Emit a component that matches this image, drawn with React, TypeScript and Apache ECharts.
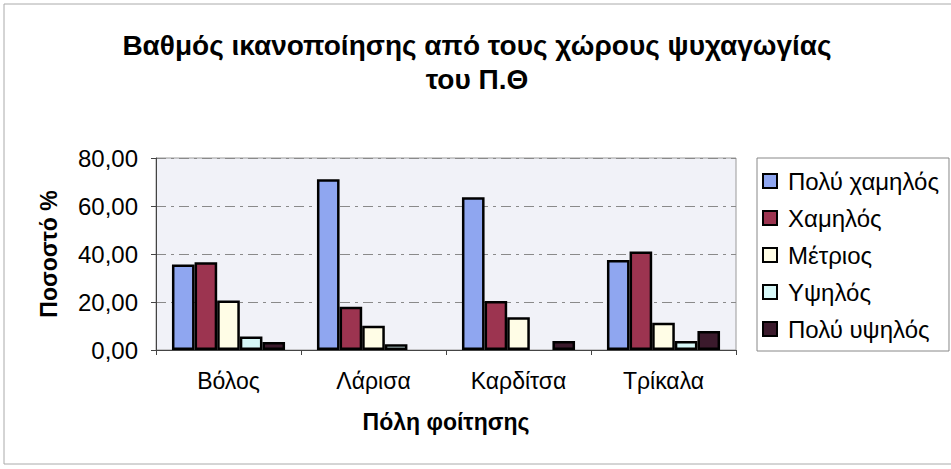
import React, { useEffect, useRef } from "react";
import * as echarts from "echarts";

const titleLines = ["Βαθμός ικανοποίησης από τους χώρους ψυχαγωγίας", "του Π.Θ"];
const categories = ["Βόλος", "Λάρισα", "Καρδίτσα", "Τρίκαλα"];
const seriesNames = ["Πολύ χαμηλός", "Χαμηλός", "Μέτριος", "Υψηλός", "Πολύ υψηλός"];
const veryLow = [35.6, 71.1, 63.6, 37.5];
const low = [36.6, 18.0, 20.4, 41.0];
const medium = [20.6, 10.1, 13.6, 11.4];
const high = [5.6, 2.4, 0, 3.8];
const veryHigh = [3.3, 0, 3.8, 7.9];
const yTickLabels = ["0,00", "20,00", "40,00", "60,00", "80,00"];
const colors = ["#8fa6f0", "#9c3450", "#fffde6", "#d6f7f7", "#3b1a2c"];

const FONT = "Liberation Sans";

export default function App() {
  const ref = useRef<HTMLDivElement>(null);
  useEffect(() => {
    if (!ref.current) return;
    const chart = echarts.init(ref.current, null, { renderer: "svg" });
    const values = [veryLow, low, medium, high, veryHigh];
    chart.setOption({
      animation: false,
      backgroundColor: "#ffffff",
      textStyle: { fontFamily: FONT },
      title: {
        text: titleLines.join("\n"),
        left: 472,
        textAlign: "center",
        top: 23,
        textStyle: {
          fontFamily: FONT,
          fontSize: 28,
          fontWeight: "bold",
          color: "#000",
          lineHeight: 34,
        },
      },
      legend: {
        orient: "vertical",
        left: 757,
        top: 158,
        width: 200,
        height: 190,
        padding: [11, 10, 10, 5],
        itemGap: 13,
        itemWidth: 14,
        itemHeight: 14,
        icon: "rect",
        backgroundColor: "#ffffff",
        borderColor: "#888",
        borderWidth: 1,
        textStyle: { fontFamily: FONT, fontSize: 24, color: "#000", padding: [0, 0, 0, 6] },
        data: seriesNames,
      },
      grid: {
        left: 156,
        right: 215,
        top: 158,
        bottom: 119,
        show: true,
        backgroundColor: "#f1f2f8",
        borderColor: "#9a9a9a",
        borderWidth: 1,
      },
      xAxis: {
        type: "category",
        data: categories,
        name: "Πόλη φοίτησης",
        nameLocation: "middle",
        nameGap: 60,
        nameTextStyle: { fontFamily: FONT, fontSize: 23, fontWeight: "bold", color: "#000" },
        axisLine: { lineStyle: { color: "#444", width: 1 } },
        axisTick: { show: true, length: 5, lineStyle: { color: "#444" } },
        axisLabel: { fontFamily: FONT, fontSize: 23, color: "#000", margin: 19 },
      },
      yAxis: {
        type: "value",
        min: 0,
        max: 80,
        interval: 20,
        name: "Ποσοστό %",
        nameLocation: "middle",
        nameGap: 96,
        nameTextStyle: { fontFamily: FONT, fontSize: 23, fontWeight: "bold", color: "#000" },
        axisLine: { show: true, lineStyle: { color: "#444", width: 1 } },
        axisTick: { show: true, length: 5, lineStyle: { color: "#444" } },
        axisLabel: {
          fontFamily: FONT,
          fontSize: 24,
          color: "#000",
          margin: 18,
          formatter: (v: number) => yTickLabels[Math.round(v / 20)],
        },
        splitLine: { show: true, lineStyle: { color: "#8a8a8a", type: [10, 5, 3, 5], width: 1 } },
      },
      series: seriesNames.map((name, i) => ({
        name,
        type: "bar",
        data: values[i].map((v) => (v === 0 ? null : v)),
        barGap: "0%",
        barCategoryGap: "22%",
        itemStyle: { color: colors[i], borderColor: "#000", borderWidth: 2.5 },
      })),
      graphic: [
        {
          type: "rect",
          shape: { x: 4, y: 4, width: 960, height: 460 },
          style: { fill: "none", stroke: "#aaa", lineWidth: 1 },
          silent: true,
          z: -1,
        },
      ],
    });
    return () => chart.dispose();
  }, []);
  return <div ref={ref} style={{ width: 951, height: 469, position: "absolute", left: 0, top: 0 }} />;
}
